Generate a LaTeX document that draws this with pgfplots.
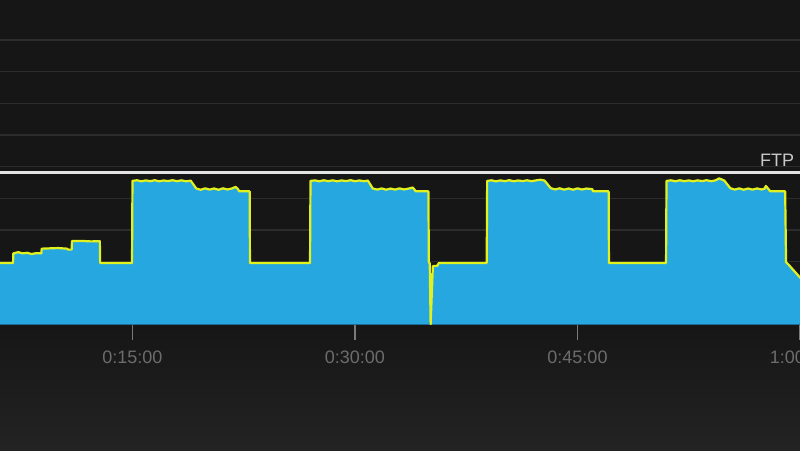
\documentclass[border=0pt]{standalone}
\usepackage{pgfplots}
\pgfplotsset{compat=1.18}
\usepackage{pgfplotstable}
\usepackage{fontspec}
\setmainfont{Liberation Sans}
\definecolor{bgtop}{HTML}{161616}
\definecolor{bgbot}{HTML}{232323}
\definecolor{gridc}{HTML}{2C2C2C}
\definecolor{fillc}{HTML}{27A7DF}
\definecolor{linec}{HTML}{E2F11E}
\definecolor{basec}{HTML}{1C6E98}
\definecolor{tickc}{HTML}{7A7A7A}
\definecolor{labc}{HTML}{6C6C6C}
\definecolor{ftpc}{HTML}{E4E4E4}
\definecolor{ftpt}{HTML}{C8C8C8}

\pgfplotstableread{
t w
6.0 98
6.95 98
6.97 113
7.3 115
7.6 113
7.9 114
8.2 112
8.5 113.5
8.86 113
8.88 120.5
9.4 121
10.0 121.5
10.6 120.5
10.66 119
10.9 119
10.92 132.5
11.5 132.8
12.2 132
12.8 132.3
12.82 98
14.97 98
15.0 227.5
15.3 228.5
15.6 226.8
15.9 228.3
16.2 227
16.5 228.6
16.8 226.8
17.1 228.2
17.4 227.2
17.7 228.6
18.0 227
18.3 228.4
18.6 226.9
18.93 227.8
19.3 215.5
19.6 213.5
19.9 215.8
20.2 213.8
20.5 215.6
20.8 213.5
21.1 215.8
21.4 214
21.7 215.5
21.95 218
22.1 215
22.2 211
22.9 211
22.92 98
26.97 98
27.0 227.5
27.3 228.3
27.6 226.9
27.9 228.5
28.2 227
28.5 228.4
28.8 226.8
29.1 228.3
29.4 227.1
29.7 228.6
30.0 227
30.3 228.2
30.6 227
30.87 228
31.2 215.5
31.5 213.8
31.8 215.6
32.1 213.6
32.4 215.4
32.7 213.8
33.0 215.7
33.3 214
33.6 215.3
33.9 217
34.1 211
34.95 211
34.98 98
35.04 98
35.1 1
35.25 93
35.55 93.5
35.65 98
38.88 98
38.91 227.5
39.2 228.4
39.5 226.8
39.8 228.3
40.1 227
40.4 228.6
40.7 226.9
41.0 228.2
41.3 227.1
41.6 228.5
41.9 227
42.2 228.3
42.5 229.3
42.78 228
43.2 216
43.5 214
43.8 215.8
44.1 213.7
44.4 215.5
44.7 213.6
45.0 215.7
45.3 213.9
45.6 215.4
46.0 214.5
46.05 211
47.1 211
47.12 98
50.97 98
51.0 227.5
51.3 228.4
51.6 226.9
51.9 228.5
52.2 227
52.5 228.3
52.8 226.8
53.1 228.4
53.4 227.1
53.7 228.6
54.0 227
54.3 228.3
54.55 231.5
54.9 228
55.3 216
55.6 213.8
55.9 215.7
56.2 213.6
56.5 215.5
56.8 213.7
57.1 215.6
57.4 214
57.6 215
57.7 219.5
58.0 211
59.0 211
59.06 99
59.2 96
60.0 75
60.2 72
}\powerdata

\begin{document}
\begin{tikzpicture}
\fill[bgtop] (0pt,0pt) rectangle (800pt,450pt);
\shade[top color=bgtop, bottom color=bgbot] (0pt,0pt) rectangle (800pt,125pt);
\path[use as bounding box] (0pt,0pt) rectangle (800pt,450pt);
\begin{axis}[
  at={(0pt,125pt)}, anchor=south west,
  scale only axis, width=800pt, height=325pt,
  xmin=6.07, xmax=60.0, ymin=0, ymax=513.1,
  axis line style={draw=none},
  xtick={15,30,45,60},
  xticklabels={0:15:00,0:30:00,0:45:00,1:00:00},
  xtick pos=left, xtick align=outside,
  major tick length=15pt,
  xtick style={draw=tickc, line width=1.6pt},
  xticklabel style={font=\fontsize{18}{20}\selectfont, text=labc, anchor=base, yshift=-23.5pt},
  ytick={50,100,...,450},
  yticklabels={},
  ytick style={draw=none},
  ymajorgrids,
  major grid style={draw=gridc, line width=1.6pt},
  clip=true,
]
\addplot[fill=fillc, draw=none] table[x=t, y=w] {\powerdata} \closedcycle;
\addplot[basec, line width=2pt] coordinates {(5,0) (61,0)};
\addplot[linec, line width=2.2pt, line join=round] table[x=t, y=w] {\powerdata};
\addplot[ftpc, line width=2.6pt] coordinates {(5,241) (61,241)};
\node[anchor=base east, inner sep=0pt, text=ftpt, font=\fontsize{18}{20}\selectfont] at (axis cs:59.61,249.9) {FTP};
\end{axis}
\end{tikzpicture}
\end{document}
